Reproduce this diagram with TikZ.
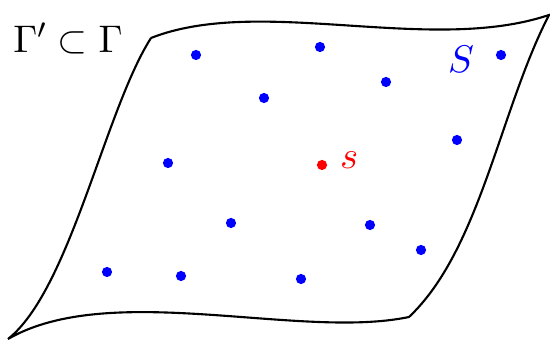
\documentclass[tikz,border=0pt]{standalone}
\usepackage{amsmath,amssymb}
\usepackage{tikz}
\usetikzlibrary{positioning}

\begin{document}
\begin{tikzpicture}[
  x=0.01cm, y=-0.01cm,
  pt/.style={circle, fill=blue, inner sep=0pt, minimum size=2.9pt},
  src/.style={circle, fill=red, inner sep=0pt, minimum size=2.9pt},
  lbl/.style={font=\fontsize{11}{13}\selectfont},
  edge/.style={line width=0.6pt, black}
]
\useasboundingbox (0,0) rectangle (550,340);

% corners of the patch
\coordinate (tl) at (151,38);
\coordinate (tr) at (549,15);
\coordinate (br) at (409,317);
\coordinate (bl) at (8,339);

\draw[edge] (tl) .. controls (260,-5) and (430,55) .. (tr)
               .. controls (500,110) and (480,250) .. (br)
               .. controls (300,340) and (110,280) .. (bl)
               .. controls (70,290) and (105,110) .. (tl);

% sample points
\node[pt] (p1)  at (196,55)  {};
\node[pt] (p2)  at (320,47)  {};
\node[pt] (p3)  at (264,98)  {};
\node[pt] (p4)  at (386,82)  {};
\node[pt] (p5)  at (501,55)  {};
\node[pt] (p6)  at (457,140) {};
\node[pt] (p7)  at (168,163) {};
\node[pt] (p8)  at (231,223) {};
\node[pt] (p9)  at (370,225) {};
\node[pt] (p10) at (421,250) {};
\node[pt] (p11) at (107,272) {};
\node[pt] (p12) at (181,276) {};
\node[pt] (p13) at (301,279) {};
\node[src] (s0) at (322,165) {};

\node[lbl, text=red, right=0pt of s0, yshift=1.5pt] (slbl) {$s$};
\node[lbl, text=blue] (Slbl) at (461,59) {$S$};
\node[lbl] (gamma) at (68,38) {$\Gamma' \subset \Gamma$};
\end{tikzpicture}
\end{document}
